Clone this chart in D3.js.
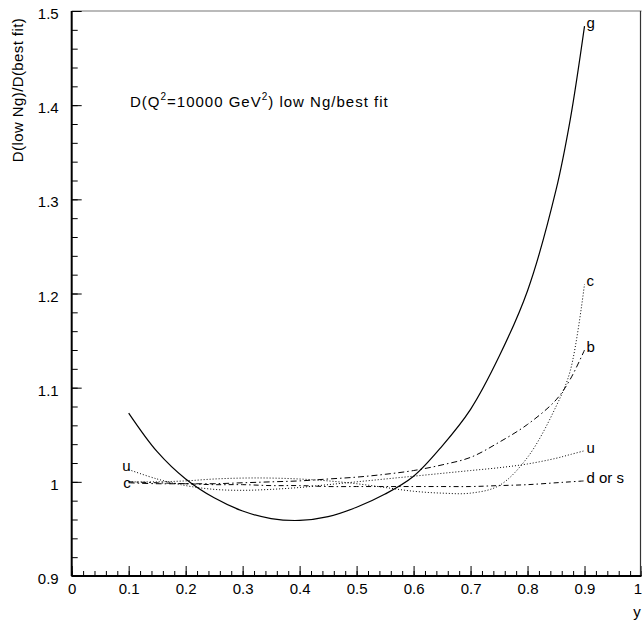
<!doctype html>
<html>
<head>
<meta charset="utf-8">
<script src="https://d3js.org/d3.v7.min.js"></script>
<style>
  body { margin: 0; background: #fff; }
  svg text { font-family: "Liberation Sans", Arial, Helvetica, sans-serif; font-size: 15px; fill: #000; }
  .curve { fill: none; stroke: #000; }
</style>
</head>
<body>
<div id="chart"></div>
<script>
// sample points along y (x axis)
var xs = [0.1, 0.15, 0.2, 0.25, 0.3, 0.35, 0.4, 0.45, 0.5, 0.55, 0.6, 0.65, 0.7, 0.75, 0.8, 0.85, 0.875, 0.9];

// ratio D(low Ng)/D(best fit) per parton
var gVals = [1.073, 1.032, 1.003, 0.983, 0.969, 0.961, 0.959, 0.963, 0.973, 0.987, 1.006, 1.038, 1.077, 1.133, 1.203, 1.310, 1.385, 1.484];
var cVals = [1.000, 1.000, 1.001, 1.003, 1.004, 1.004, 1.003, 1.001, 0.998, 0.994, 0.990, 0.988, 0.988, 0.996, 1.026, 1.080, 1.118, 1.210];
var bVals = [0.999, 0.998, 0.998, 0.998, 0.999, 1.000, 1.001, 1.003, 1.005, 1.008, 1.012, 1.018, 1.026, 1.042, 1.061, 1.087, 1.109, 1.140];
var uVals = [1.013, 1.003, 0.996, 0.992, 0.991, 0.992, 0.994, 0.997, 1.000, 1.003, 1.006, 1.009, 1.012, 1.015, 1.019, 1.025, 1.029, 1.033];
var dVals = [1.000, 0.999, 0.998, 0.997, 0.997, 0.996, 0.996, 0.995, 0.995, 0.995, 0.995, 0.995, 0.995, 0.996, 0.997, 0.999, 1.000, 1.001];

var xTickVals = [0, 0.1, 0.2, 0.3, 0.4, 0.5, 0.6, 0.7, 0.8, 0.9, 1];
var xTickLabels = ["0", "0.1", "0.2", "0.3", "0.4", "0.5", "0.6", "0.7", "0.8", "0.9", "1"];
var yTickVals = [0.9, 1.0, 1.1, 1.2, 1.3, 1.4, 1.5];
var yTickLabels = ["0.9", "1", "1.1", "1.2", "1.3", "1.4", "1.5"];

var W = 642, H = 623;
var margin = {top: 11, right: 0.5, bottom: 47, left: 71.7};

var svg = d3.select("#chart").append("svg")
    .attr("width", W)
    .attr("height", H);

var x = d3.scaleLinear().domain([0, 1]).range([margin.left, W - margin.right]);
var y = d3.scaleLinear().domain([0.9, 1.5]).range([H - margin.bottom, margin.top]);

// frame
svg.append("line").attr("x1", x(0)).attr("x2", x(1)).attr("y1", y(1.5)).attr("y2", y(1.5))
    .attr("stroke", "#777").attr("stroke-width", 1.2);
svg.append("line").attr("x1", x(1) - 1).attr("x2", x(1) - 1).attr("y1", y(1.5)).attr("y2", y(0.9))
    .attr("stroke", "#333").attr("stroke-width", 1.2);
svg.append("line").attr("x1", x(0)).attr("x2", x(0)).attr("y1", y(1.5)).attr("y2", y(0.9))
    .attr("stroke", "#000").attr("stroke-width", 2);
svg.append("line").attr("x1", x(0)).attr("x2", x(1)).attr("y1", y(0.9)).attr("y2", y(0.9))
    .attr("stroke", "#000").attr("stroke-width", 2);

// minor ticks
var xMinor = d3.range(0, 1.0001, 0.02);
var yMinor = d3.range(0.9, 1.5001, 0.02);

svg.append("g")
    .attr("transform", "translate(0," + y(0.9) + ")")
    .call(d3.axisBottom(x).tickValues(xMinor).tickSize(-5).tickSizeOuter(0).tickFormat(""))
    .call(function(g) { g.select(".domain").remove(); });

svg.append("g")
    .attr("transform", "translate(" + x(0) + ",0)")
    .call(d3.axisLeft(y).tickValues(yMinor).tickSize(-6).tickSizeOuter(0).tickFormat(""))
    .call(function(g) { g.select(".domain").remove(); });

// major ticks + labels
svg.append("g")
    .attr("transform", "translate(0," + y(0.9) + ")")
    .call(d3.axisBottom(x).tickValues(xTickVals).tickSize(-10).tickSizeOuter(0).tickPadding(7)
      .tickFormat(function(d, i) { return xTickLabels[i]; }))
    .call(function(g) { g.select(".domain").remove(); })
    .call(function(g) {
      g.selectAll("text").attr("font-size", 15).attr("font-family", null);
      g.selectAll("text").filter(function(d) { return d === 1; }).attr("text-anchor", "end").attr("dx", 0);
    });

svg.append("g")
    .attr("transform", "translate(" + x(0) + ",0)")
    .call(d3.axisLeft(y).tickValues(yTickVals).tickSize(-10).tickSizeOuter(0).tickPadding(13)
      .tickFormat(function(d, i) { return yTickLabels[i]; }))
    .call(function(g) { g.select(".domain").remove(); })
    .call(function(g) { g.selectAll("text").attr("font-size", 15).attr("font-family", null).attr("dy", "0.5em"); });

svg.selectAll(".tick line").attr("stroke", "#000");

// axis titles
svg.append("text")
    .attr("transform", "translate(23,90) rotate(-90)")
    .attr("text-anchor", "middle")
    .attr("font-size", 16)
    .attr("letter-spacing", 0.4)
    .text("D(low Ng)/D(best fit)");

svg.append("text")
    .attr("x", 637).attr("y", 617)
    .attr("text-anchor", "middle")
    .text("y");

// plot title
var t = svg.append("text").attr("x", 130).attr("y", 107).attr("font-size", 17).attr("letter-spacing", 1);
t.append("tspan").text("D(Q");
t.append("tspan").attr("font-size", 10).attr("dy", -7).text("2");
t.append("tspan").attr("dy", 7).text("=10000 GeV");
t.append("tspan").attr("font-size", 10).attr("dy", -7).text("2");
t.append("tspan").attr("dy", 7).text(") low Ng/best fit");

// curves
var line = d3.line()
    .x(function(d) { return x(d[0]); })
    .y(function(d) { return y(d[1]); })
    .curve(d3.curveCatmullRom);

var series = [
  {name: "g", vals: gVals, dash: null, width: 1.2, color: "#000"},
  {name: "c", vals: cVals, dash: "1,2", width: 1, color: "#333"},
  {name: "b", vals: bVals, dash: "6,3,1.5,3", width: 1, color: "#333"},
  {name: "u", vals: uVals, dash: "1,2", width: 1, color: "#333"},
  {name: "d or s", vals: dVals, dash: "5,3,1.5,3", width: 1, color: "#333"}
];

series.forEach(function(s) {
  var pts = xs.map(function(v, i) { return [v, s.vals[i]]; });
  svg.append("path")
      .datum(pts)
      .attr("class", "curve")
      .attr("stroke", s.color)
      .attr("stroke-width", s.width)
      .attr("stroke-dasharray", s.dash)
      .attr("d", line);
  var last = s.vals[s.vals.length - 1];
  svg.append("text")
      .attr("x", x(0.9) + 2)
      .attr("y", y(last) + 2)
      .text(s.name);
});

// left end labels
svg.append("text").attr("x", x(0.1) + 2).attr("y", y(uVals[0]) + 1).attr("text-anchor", "end").text("u");
svg.append("text").attr("x", x(0.1) + 2).attr("y", y(cVals[0]) + 6).attr("text-anchor", "end").text("c");
</script>
</body>
</html>
